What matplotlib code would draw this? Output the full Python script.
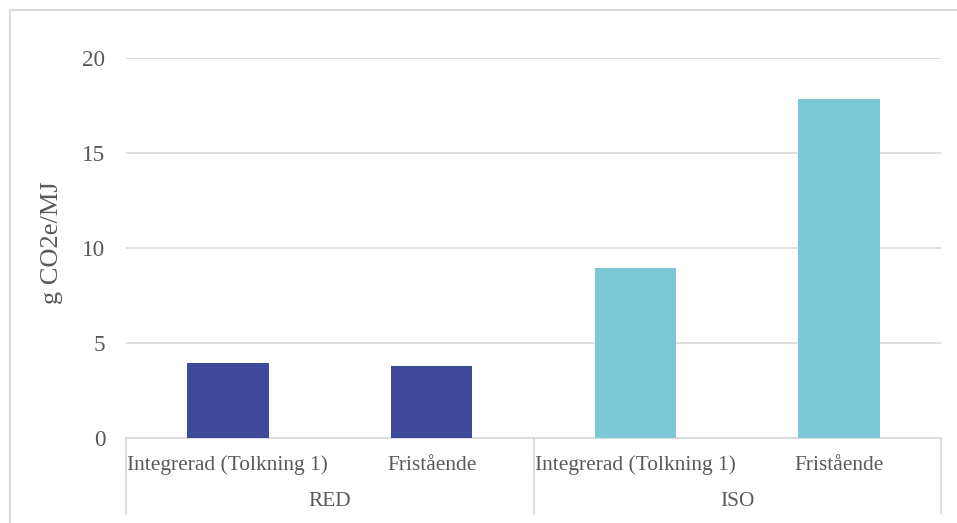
import matplotlib
matplotlib.use("Agg")
import matplotlib.pyplot as plt
from matplotlib.lines import Line2D

# g CO2e/MJ per allocation approach, grouped by method
groups = ["RED", "ISO"]
categories = ["Integrerad (Tolkning 1)", "Fristående"]
red_values = [3.95, 3.77]
iso_values = [8.96, 17.86]
group_colors = ["#404A9A", "#7CC8D6"]

plt.rcParams["font.family"] = ["Liberation Serif", "DejaVu Serif"]
TXT = "#595959"
GRID = "#D9D9D9"

W, H = 957, 523
X0, X1, Y0, Y1 = 126, 941, 438, 58   # plot area in pixels
fig = plt.figure(figsize=(W / 100, H / 100), dpi=100)
ax = fig.add_axes([X0 / W, 1 - Y0 / H, (X1 - X0) / W, (Y0 - Y1) / H])

values = red_values + iso_values
colors = [group_colors[0]] * len(red_values) + [group_colors[1]] * len(iso_values)
xs = list(range(len(values)))
ax.bar(xs, values, width=0.4, color=colors, zorder=3)

ax.set_xlim(-0.5, len(values) - 0.5)
ax.set_ylim(0, 20)
ax.set_yticks([0, 5, 10, 15, 20])
ax.tick_params(axis="y", length=0, pad=15, labelsize=16.7, labelcolor=TXT)
ax.set_xticks([])
ax.grid(axis="y", color=GRID, lw=1.2, zorder=0)
for side in ["top", "right", "left"]:
    ax.spines[side].set_visible(False)
ax.spines["bottom"].set_color(GRID)
ax.spines["bottom"].set_linewidth(1.2)

# two-level category axis
slot = (X1 - X0) / len(values)
for i, x in enumerate(xs):
    fig.text((X0 + (x + 0.5) * slot) / W, 1 - 465 / H,
             categories[i % len(categories)], fontsize=15.4, color=TXT,
             ha="center", va="center")
for gi, g in enumerate(groups):
    center = gi * len(categories) + len(categories) / 2
    fig.text((X0 + center * slot) / W, 1 - 502 / H, g,
             fontsize=15.4, color=TXT, ha="center", va="center")
for k in range(len(groups) + 1):
    xp = (X0 + k * len(categories) * slot) / W
    fig.add_artist(Line2D([xp, xp], [1 - Y0 / H, 1 - 514 / H], color=GRID, lw=1.2))

fig.text(52 / W, 1 - 243 / H, "g CO2e/MJ", rotation=90, fontsize=19, color=TXT,
         ha="center", va="center")

# chart frame
fig.add_artist(Line2D([10 / W, 10 / W, 1], [0, 1 - 10 / H, 1 - 10 / H], color=GRID, lw=1.5))

fig.savefig("out.png", dpi=100)
